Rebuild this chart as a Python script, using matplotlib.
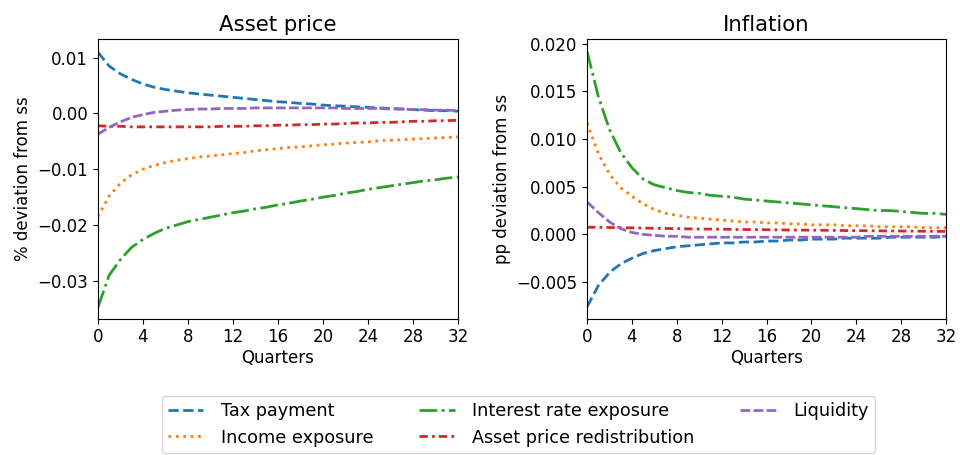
import matplotlib
matplotlib.use("Agg")
import matplotlib.pyplot as plt
import numpy as np

quarters = list(range(33))
labels = ["Tax payment", "Income exposure", "Interest rate exposure",
          "Asset price redistribution", "Liquidity"]

asset_tax = [0.0110, 0.0085, 0.0071, 0.0061, 0.0053, 0.0047, 0.0043, 0.0040, 0.0037, 0.0035, 0.0033,
             0.0031, 0.0029, 0.0027, 0.0025, 0.0023, 0.0021, 0.0020, 0.0018, 0.0017, 0.0015, 0.0014,
             0.0013, 0.0012, 0.0011, 0.0010, 0.0009, 0.0008, 0.0007, 0.0006, 0.0005, 0.0005, 0.0004]
asset_income = [-0.0185, -0.0148, -0.0125, -0.0110, -0.0100, -0.0093, -0.0088, -0.0084, -0.0081, -0.0078,
                -0.0076, -0.0074, -0.0072, -0.0070, -0.0067, -0.0065, -0.0063, -0.0061, -0.0060, -0.0058,
                -0.0056, -0.0055, -0.0053, -0.0052, -0.0051, -0.0049, -0.0048, -0.0047, -0.0046, -0.0045,
                -0.0044, -0.0043, -0.0042]
asset_interest = [-0.0348, -0.0290, -0.0262, -0.0240, -0.0226, -0.0215, -0.0206, -0.0200, -0.0194, -0.0190,
                  -0.0186, -0.0182, -0.0178, -0.0175, -0.0171, -0.0168, -0.0164, -0.0161, -0.0157, -0.0154,
                  -0.0150, -0.0147, -0.0143, -0.0140, -0.0136, -0.0133, -0.0130, -0.0127, -0.0124, -0.0121,
                  -0.0119, -0.0116, -0.0114]
asset_redist = [-0.0022, -0.0023, -0.0023, -0.0024, -0.0024, -0.0024, -0.0024, -0.0024, -0.0024, -0.0024,
                -0.0024, -0.0023, -0.0023, -0.0023, -0.0022, -0.0022, -0.0021, -0.0021, -0.0020, -0.0020,
                -0.0019, -0.0019, -0.0018, -0.0017, -0.0017, -0.0016, -0.0016, -0.0015, -0.0014, -0.0014,
                -0.0013, -0.0013, -0.0012]
asset_liquidity = [-0.0037, -0.0025, -0.0015, -0.0007, -0.0002, 0.0002, 0.0004, 0.0006, 0.0007, 0.0008,
                   0.0008, 0.0009, 0.0009, 0.0009, 0.0010, 0.0010, 0.0010, 0.0010, 0.0010, 0.0010, 0.0010,
                   0.0010, 0.0009, 0.0009, 0.0009, 0.0009, 0.0008, 0.0008, 0.0007, 0.0007, 0.0006, 0.0006,
                   0.0005]

infl_tax = [-0.0076, -0.0054, -0.0040, -0.0031, -0.0025, -0.0020, -0.0017, -0.0015, -0.0013, -0.0012,
            -0.0011, -0.0010, -0.0009, -0.0009, -0.0008, -0.0008, -0.0007, -0.0007, -0.0006, -0.0006,
            -0.0005, -0.0005, -0.0005, -0.0004, -0.0004, -0.0004, -0.0004, -0.0003, -0.0003, -0.0003,
            -0.0003, -0.0003, -0.0002]
infl_income = [0.0117, 0.0085, 0.0063, 0.0049, 0.0040, 0.0032, 0.0026, 0.0022, 0.0020, 0.0018, 0.0017,
               0.0016, 0.0015, 0.0014, 0.0013, 0.0013, 0.0012, 0.0012, 0.0011, 0.0011, 0.0010, 0.0010,
               0.0010, 0.0009, 0.0009, 0.0009, 0.0008, 0.0008, 0.0008, 0.0008, 0.0007, 0.0007, 0.0007]
infl_interest = [0.0192, 0.0145, 0.0110, 0.0086, 0.0070, 0.0058, 0.0052, 0.0049, 0.0046, 0.0044, 0.0043,
                 0.0041, 0.0040, 0.0039, 0.0037, 0.0036, 0.0035, 0.0034, 0.0033, 0.0032, 0.0031, 0.0030,
                 0.0029, 0.0028, 0.0027, 0.0026, 0.0025, 0.0025, 0.0024, 0.0023, 0.0022, 0.0022, 0.0021]
infl_redist = [0.00075, 0.00074, 0.00072, 0.00070, 0.00068, 0.00066, 0.00064, 0.00062, 0.00060, 0.00058,
               0.00056, 0.00055, 0.00054, 0.00052, 0.00051, 0.00050, 0.00049, 0.00047, 0.00046, 0.00045,
               0.00044, 0.00043, 0.00042, 0.00040, 0.00039, 0.00038, 0.00037, 0.00036, 0.00035, 0.00034,
               0.00033, 0.00032, 0.00031]
infl_liquidity = [0.0034, 0.0023, 0.0013, 0.0006, 0.0002, 0.0000, -0.0001, -0.0002, -0.0002, -0.0003,
                  -0.0003, -0.0003, -0.0003, -0.0003, -0.0003, -0.0003, -0.0003, -0.0003, -0.0003, -0.0003,
                  -0.0003, -0.0003, -0.0003, -0.0003, -0.0003, -0.0002, -0.0002, -0.0002, -0.0002, -0.0002,
                  -0.0002, -0.0002, -0.0002]

colors = ["#1f77b4", "#ff7f0e", "#2ca02c", "#d62728", "#9467bd"]
styles = ["--", ":", "-.", (0, (3, 1.5, 1, 1.5)), (0, (3.5, 1.2))]

fig = plt.figure(figsize=(9.6, 4.55), dpi=100)
ax1 = fig.add_axes([0.102, 0.2996, 0.375, 0.6146])
ax2 = fig.add_axes([0.6115, 0.2996, 0.374, 0.6146])

fs = 12
for ax, series, title, ylabel, ylim in [
    (ax1, [asset_tax, asset_income, asset_interest, asset_redist, asset_liquidity],
     "Asset price", "% deviation from ss", (-0.0368, 0.01335)),
    (ax2, [infl_tax, infl_income, infl_interest, infl_redist, infl_liquidity],
     "Inflation", "pp deviation from ss", (-0.00885, 0.0205)),
]:
    for s, lab, c, ls in zip(series, labels, colors, styles):
        ax.plot(quarters, s, color=c, linestyle=ls, linewidth=2, label=lab)
    ax.set_xlim(0, 32)
    ax.set_ylim(*ylim)
    ax.set_xticks(range(0, 33, 4))
    ax.set_title(title, fontsize=15.3)
    ax.set_xlabel("Quarters", fontsize=fs, labelpad=2)
    ax.set_ylabel(ylabel, fontsize=fs)
    ax.tick_params(labelsize=fs)

ax1.set_yticks([-0.03, -0.02, -0.01, 0.0, 0.01])
ax1.set_yticklabels(["\u22120.03", "\u22120.02", "\u22120.01", "0.00", "0.01"])
ax2.set_yticks([-0.005, 0.0, 0.005, 0.01, 0.015, 0.02])
ax2.set_yticklabels(["\u22120.005", "0.000", "0.005", "0.010", "0.015", "0.020"])

handles, labs = ax1.get_legend_handles_labels()
fig.legend(handles, labs, loc="lower center", bbox_to_anchor=(0.54, 0.003), ncol=3,
           fontsize=12.7, frameon=True, columnspacing=2.6, handletextpad=1.0,
           handlelength=2.0, borderaxespad=0.05, borderpad=0.35)

fig.savefig("out.png", dpi=100)
